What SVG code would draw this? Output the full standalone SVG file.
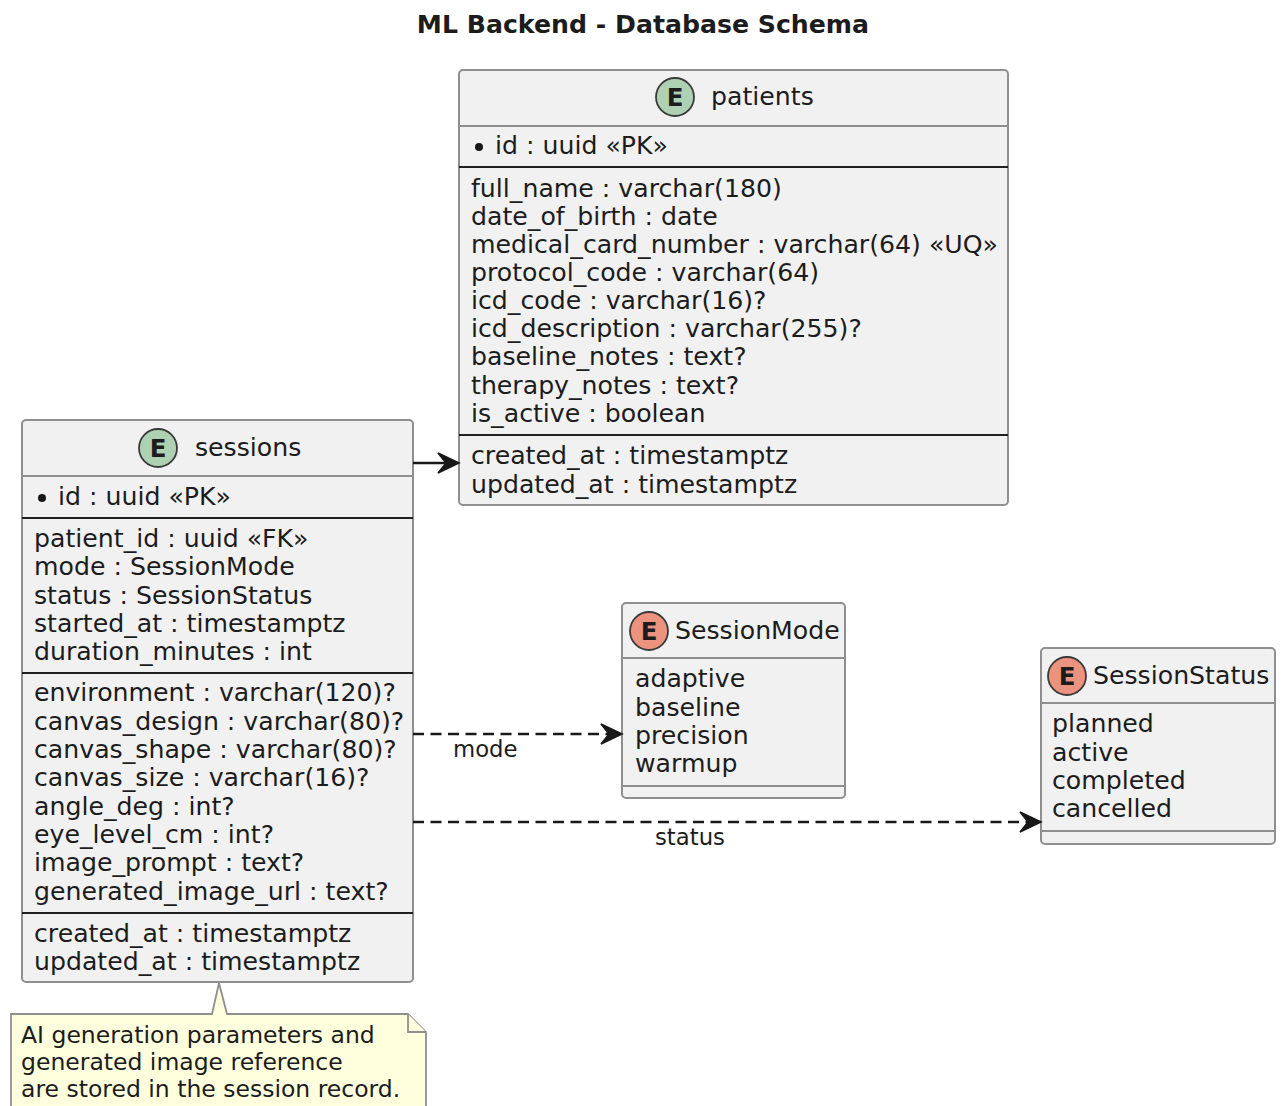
<svg xmlns="http://www.w3.org/2000/svg" width="1284" height="1106" viewBox="0 0 1284 1106">
  <style>
    text { font-family: "DejaVu Sans", "Liberation Sans", sans-serif; fill: #1c1c1c; }
    .title { font-size: 25.2px; font-weight: bold; }
    .t { font-size: 25.2px; }
    .lbl { font-size: 22.75px; }
    .nt { font-size: 23.5px; }
    .box { fill: #F1F1F1; stroke: #8f8f8f; stroke-width: 2; }
    .hdr { stroke: #8f8f8f; stroke-width: 1.8; }
    .sep { stroke: #202020; stroke-width: 1.8; }
    .ent { fill: #ADD1B2; stroke: #3a3a3a; stroke-width: 1.8; }
    .enm { fill: #EB937F; stroke: #3a3a3a; stroke-width: 1.8; }
    .ce { font-size: 24.5px; font-weight: bold; text-anchor: middle; }
    .edge { stroke: #181818; stroke-width: 2.6; fill: none; }
    .dash { stroke-dasharray: 11 6.5; }
    .head { fill: #181818; stroke: #181818; stroke-width: 1.5; }
    .note { fill: #FEFFDD; stroke: #8f8f8f; stroke-width: 1.8; }
  </style>

  <text class="title" x="643" y="33" text-anchor="middle">ML Backend - Database Schema</text>

  <!-- patients entity -->
  <g id="patients">
    <rect class="box" x="459" y="70" width="549" height="435" rx="4"/>
    <line class="hdr" x1="459" y1="126" x2="1008" y2="126"/>
    <circle class="ent" cx="675" cy="97" r="19"/>
    <text class="ce" x="675" y="106">E</text>
    <text class="t" x="711" y="105">patients</text>
    <circle cx="479" cy="147" r="4" fill="#181818"/>
    <text class="t" x="495" y="154">id : uuid «PK»</text>
    <line class="sep" x1="459" y1="167" x2="1008" y2="167"/>
    <text class="t" x="471" y="197">full_name : varchar(180)</text>
    <text class="t" x="471" y="225">date_of_birth : date</text>
    <text class="t" x="471" y="253">medical_card_number : varchar(64) «UQ»</text>
    <text class="t" x="471" y="281">protocol_code : varchar(64)</text>
    <text class="t" x="471" y="309">icd_code : varchar(16)?</text>
    <text class="t" x="471" y="337">icd_description : varchar(255)?</text>
    <text class="t" x="471" y="365">baseline_notes : text?</text>
    <text class="t" x="471" y="394">therapy_notes : text?</text>
    <text class="t" x="471" y="422">is_active : boolean</text>
    <line class="sep" x1="459" y1="435" x2="1008" y2="435"/>
    <text class="t" x="471" y="464">created_at : timestamptz</text>
    <text class="t" x="471" y="493">updated_at : timestamptz</text>
  </g>

  <!-- sessions entity -->
  <g id="sessions">
    <rect class="box" x="22" y="420" width="391" height="562" rx="4"/>
    <line class="hdr" x1="22" y1="476" x2="413" y2="476"/>
    <circle class="ent" cx="158" cy="448" r="19"/>
    <text class="ce" x="158" y="457">E</text>
    <text class="t" x="195" y="456">sessions</text>
    <circle cx="42" cy="498" r="4" fill="#181818"/>
    <text class="t" x="58" y="505">id : uuid «PK»</text>
    <line class="sep" x1="22" y1="518" x2="413" y2="518"/>
    <text class="t" x="34" y="547">patient_id : uuid «FK»</text>
    <text class="t" x="34" y="575">mode : SessionMode</text>
    <text class="t" x="34" y="604">status : SessionStatus</text>
    <text class="t" x="34" y="632">started_at : timestamptz</text>
    <text class="t" x="34" y="660">duration_minutes : int</text>
    <line class="sep" x1="22" y1="673" x2="413" y2="673"/>
    <text class="t" x="34" y="701">environment : varchar(120)?</text>
    <text class="t" x="34" y="730">canvas_design : varchar(80)?</text>
    <text class="t" x="34" y="758">canvas_shape : varchar(80)?</text>
    <text class="t" x="34" y="786">canvas_size : varchar(16)?</text>
    <text class="t" x="34" y="815">angle_deg : int?</text>
    <text class="t" x="34" y="843">eye_level_cm : int?</text>
    <text class="t" x="34" y="871">image_prompt : text?</text>
    <text class="t" x="34" y="900">generated_image_url : text?</text>
    <line class="sep" x1="22" y1="913" x2="413" y2="913"/>
    <text class="t" x="34" y="942">created_at : timestamptz</text>
    <text class="t" x="34" y="970">updated_at : timestamptz</text>
  </g>

  <!-- SessionMode enum -->
  <g id="SessionMode">
    <rect class="box" x="622" y="603" width="223" height="195" rx="4"/>
    <line class="hdr" x1="622" y1="658" x2="845" y2="658"/>
    <circle class="enm" cx="649" cy="631" r="19"/>
    <text class="ce" x="649" y="640">E</text>
    <text class="t" x="675" y="639">SessionMode</text>
    <text class="t" x="635" y="687">adaptive</text>
    <text class="t" x="635" y="716">baseline</text>
    <text class="t" x="635" y="744">precision</text>
    <text class="t" x="635" y="772">warmup</text>
    <line class="hdr" x1="622" y1="786" x2="845" y2="786"/>
  </g>

  <!-- SessionStatus enum -->
  <g id="SessionStatus">
    <rect class="box" x="1041" y="648" width="234" height="196" rx="4"/>
    <line class="hdr" x1="1041" y1="703" x2="1275" y2="703"/>
    <circle class="enm" cx="1067" cy="676" r="19"/>
    <text class="ce" x="1067" y="685">E</text>
    <text class="t" x="1093" y="684">SessionStatus</text>
    <text class="t" x="1052" y="732">planned</text>
    <text class="t" x="1052" y="761">active</text>
    <text class="t" x="1052" y="789">completed</text>
    <text class="t" x="1052" y="817">cancelled</text>
    <line class="hdr" x1="1041" y1="831" x2="1275" y2="831"/>
  </g>

  <!-- note attached to sessions -->
  <g id="note">
    <path class="note" d="M11,1014 L212,1014 L219,983 L227,1014 L408,1014 L426,1032 L426,1110 L11,1110 Z"/>
    <path class="note" d="M408,1014 L408,1032 L426,1032" fill="none"/>
    <text class="nt" x="21" y="1043">AI generation parameters and</text>
    <text class="nt" x="21" y="1070">generated image reference</text>
    <text class="nt" x="21" y="1097">are stored in the session record.</text>
  </g>

  <!-- connectors -->
  <g id="connectors">
    <line class="edge" x1="413" y1="463" x2="452" y2="463"/>
    <path class="head" d="M459,463 L438,453 L446,463 L438,473 Z"/>

    <line class="edge dash" x1="413" y1="734" x2="614" y2="734"/>
    <path class="head" d="M622,734 L601,724 L609,734 L601,744 Z"/>
    <text class="lbl" x="453" y="757">mode</text>

    <line class="edge dash" x1="413" y1="822" x2="1033" y2="822"/>
    <path class="head" d="M1041,822 L1020,812 L1028,822 L1020,832 Z"/>
    <text class="lbl" x="655" y="845">status</text>
  </g>
</svg>
